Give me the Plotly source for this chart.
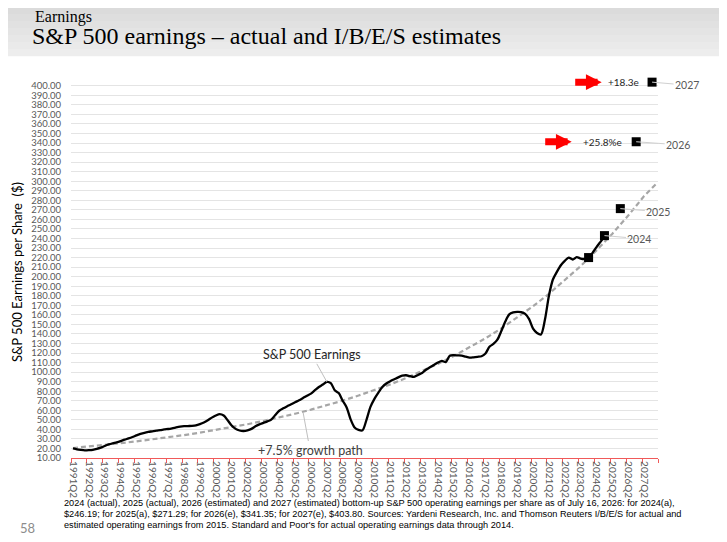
import plotly.graph_objects as go

# --- data ---
# quarterly category axis, 1991Q2 .. 2028Q1
quarters = [f"{y}Q{q}" for y in range(1991, 2029) for q in range(1, 5)][1:149]

# S&P 500 operating earnings per share (trailing), quarterly from 1991Q2
earnings = [
    20.0, 19.0, 18.4, 18.0,      # 1991Q2 -
    18.2, 18.6, 19.5, 20.8,      # 1992Q2 -
    22.6, 24.2, 25.4, 26.4,
    27.7, 29.2, 30.5, 32.0,
    33.7, 35.2, 36.4, 37.3,
    38.0, 38.7, 39.2, 39.9,
    40.4, 41.1, 42.0, 42.8,
    43.3, 43.5, 43.7, 44.2,
    45.5, 47.2, 49.5, 52.3,
    54.5, 56.0, 54.5, 49.5,      # 2000Q2 -
    44.0, 40.5, 38.8, 38.3,
    39.0, 40.5, 43.2, 45.2,
    46.8, 48.4, 50.2, 55.0,
    59.5, 62.0, 64.2, 66.3,
    68.5, 70.4, 72.8, 75.3,
    77.5, 81.0, 84.4, 87.0,
    89.8, 88.5, 81.0, 78.0,      # 2007Q2 -
    70.0, 63.0, 50.5, 42.0,
    39.5, 39.0, 50.0, 63.5,
    72.0, 78.5, 84.4, 88.0,      # 2010Q2 -
    90.5, 92.5, 94.5, 96.2,
    96.7, 95.7, 95.0, 97.0,
    99.0, 102.5, 105.2, 107.5,
    110.0, 111.8, 110.5, 117.2,
    117.7, 117.5, 117.3, 116.2,
    115.2, 115.5, 116.0, 116.6,
    119.5, 126.5, 129.5, 134.0,  # 2017Q2 -
    143.0, 153.0, 160.5, 162.5,
    163.1, 162.8, 161.0, 155.5,
    145.5, 141.0, 139.5, 155.0,  # 2020Q2 -
    180.0, 197.0, 205.0, 212.0,
    216.5, 220.0, 218.0, 220.5,
    219.0, 218.5, 219.5, 225.0,
    231.0, 236.5, 242.0,         # 2024Q2 - 2024Q4
]

# +7.5% growth path, read at each Q2 and at the axis end
growth_q = [f"{y}Q2" for y in range(1991, 2028)] + ["2028Q1"]
growth = [
    20.5, 22.0, 23.7, 25.5, 27.4, 29.4, 31.6, 34.0, 36.6, 39.3,
    42.3, 45.4, 48.8, 52.5, 56.4, 60.7, 65.2, 70.1, 75.4, 81.0,
    87.1, 93.8, 100.9, 108.6, 116.9, 125.8, 135.4, 145.8, 157.0, 169.0,
    182.0, 196.0, 211.0, 227.5, 245.0, 264.0, 284.5, 297.0,
]

# annual points (actual / I/B/E/S estimates)
annual_q = ["2023Q4", "2024Q4", "2025Q4", "2026Q4", "2027Q4"]
annual_val = [220.0, 243.0, 271.29, 341.35, 403.8]
annual_lbl = ["", "2024", "2025", "2026", "2027"]

growth_notes = [("+25.8%e", 341.35), ("+18.3e", 403.8)]

footnote = [
    "2024 (actual), 2025 (actual), 2026 (estimated) and 2027 (estimated) bottom-up S&P 500 operating earnings per share as of July 16, 2026: for 2024(a),",
    "$246.19; for 2025(a), $271.29; for 2026(e), $341.35; for 2027(e), $403.80. Sources: Yardeni Research, Inc. and Thomson Reuters I/B/E/S for actual and",
    "estimated operating earnings from 2015. Standard and Poor's for actual operating earnings data through 2014.",
]

# the page keeps its default 8px body margin, so the figure is 8px smaller
# and every slide pixel position below is measured from the window corner
OFF = 8
W, H = 727 - OFF, 542 - OFF
ML, MR, MT, MB = 71 - OFF, 69, 81 - OFF, 84
PW, PH = W - ML - MR, H - MT - MB


def px(x):   # window pixel -> paper x
    return (x - OFF - ML) / PW


def py(y):   # window pixel -> paper y
    return (H - MB - (y - OFF)) / PH


SANS = "Lato, Open Sans, sans-serif"
SERIF = "Liberation Serif, DejaVu Serif, serif"
GREY = "#595959"

fig = go.Figure()

fig.add_trace(go.Scatter(
    x=growth_q, y=growth, mode="lines", name="+7.5% growth path",
    line=dict(color="#a6a6a6", width=2.2, dash="5px,3px"), hoverinfo="skip"))

fig.add_trace(go.Scatter(
    x=quarters[:len(earnings)], y=earnings, mode="lines", name="S&P 500 Earnings",
    line=dict(color="black", width=2.3, shape="spline", smoothing=0.8)))

fig.add_trace(go.Scatter(
    x=annual_q, y=annual_val, mode="markers", name="annual",
    marker=dict(symbol="square", size=9, color="black"), cliponaxis=False))

ann = []

# year labels with leader lines
for q, v, t, off in zip(annual_q, annual_val, annual_lbl, [0, 35, 38, 42, 35]):
    if not t:
        continue
    ann.append(dict(x=q, y=v, xref="x", yref="y", text=t, showarrow=True,
                    arrowhead=0, arrowwidth=1, arrowcolor="#d0d0d0",
                    ax=off, ay=3, font=dict(family=SANS, size=10.5, color=GREY)))

# red arrows + growth notes
for (txt, v), tip_x, txt_x in zip(growth_notes, [571.7, 601.7], [602, 623]):
    ann.append(dict(x=px(tip_x), y=v, xref="paper", yref="y", text="",
                    showarrow=True, arrowhead=2, arrowsize=0.45, arrowwidth=7,
                    arrowcolor="#ff0000", ax=-28, ay=0))
    ann.append(dict(x=px(txt_x), y=v, xref="paper", yref="y", text=txt,
                    xanchor="center", yanchor="middle", showarrow=False,
                    font=dict(family=SANS, size=10, color="#262626")))

# series callouts
ann.append(dict(x="2007Q2", y=89.8, xref="x", yref="y", text="S&P 500 Earnings",
                showarrow=True, arrowhead=0, arrowwidth=1, arrowcolor="#bfbfbf",
                ax=-15, ay=-27, font=dict(family=SANS, size=12.5, color="#262626")))
ann.append(dict(x="2005Q4", y=58.2, xref="x", yref="y", text="+7.5% growth path",
                showarrow=True, arrowhead=0, arrowwidth=1, arrowcolor="#bfbfbf",
                ax=7, ay=38, font=dict(family=SANS, size=12.5, color="#404040")))

# y title
ann.append(dict(x=px(17), y=py(272), xref="paper", yref="paper",
                text="S&P 500 Earnings per Share\u00a0 ($)", textangle=-90,
                xanchor="center", yanchor="middle",
                showarrow=False, font=dict(family=SANS, size=13, color="black")))

# header
ann.append(dict(x=px(33), y=py(17), xref="paper", yref="paper", text="Earnings",
                xanchor="left", yanchor="middle", showarrow=False,
                font=dict(family=SERIF, size=16, color="black")))
ann.append(dict(x=px(30), y=py(36), xref="paper", yref="paper",
                text="S&P 500 earnings \u2013 actual and I/B/E/S estimates",
                xanchor="left", yanchor="middle", showarrow=False,
                font=dict(family=SERIF, size=24, color="black")))

# footnote + page number
for k, line in enumerate(footnote):
    ann.append(dict(x=px(62), y=py(503 + 11 * k), xref="paper", yref="paper", text=line,
                    xanchor="left", yanchor="middle", showarrow=False,
                    font=dict(family="Liberation Sans Narrow, Arial Narrow, sans-serif",
                              size=9.2, color="black")))
ann.append(dict(x=px(27), y=py(528), xref="paper", yref="paper", text="58",
                xanchor="center", yanchor="middle",
                showarrow=False, font=dict(family=SANS, size=13, color="#8c8c8c")))

# header band: light grey gradient across the top of the slide
shapes = []
strips = ["#d8d8d8", "#dbdbdb", "#dedede", "#e1e1e1", "#e4e4e4", "#e7e7e7", "#eaeaea", "#ededed"]
sh = 56 / len(strips)
for k, c in enumerate(strips):
    shapes.append(dict(type="rect", xref="paper", yref="paper", layer="below",
                       x0=px(0), x1=px(727), y0=py((k + 1) * sh + 0.3), y1=py(k * sh),
                       fillcolor=c, line=dict(width=0)))

fig.update_layout(
    width=W, height=H,
    margin=dict(l=ML, r=MR, t=MT, b=MB),
    paper_bgcolor="white", plot_bgcolor="white",
    showlegend=False,
    annotations=ann, shapes=shapes,
    xaxis=dict(
        type="category", categoryorder="array", categoryarray=quarters,
        range=[-0.5, len(quarters) - 0.5],
        tickmode="linear", tick0=0, dtick=4, tickson="boundaries",
        tickangle=90, ticks="outside", ticklen=4, tickcolor="#f05a5a",
        showline=True, linecolor="#f05a5a", linewidth=1.2,
        showgrid=False, zeroline=False,
        tickfont=dict(family=SANS, size=10, color=GREY),
    ),
    yaxis=dict(
        range=[10, 405], tick0=10, dtick=10, tickformat=".2f",
        showgrid=True, gridcolor="#e4e4e4", gridwidth=1,
        zeroline=False, showline=False, ticks="",
        ticklabelstandoff=9,
        tickfont=dict(family=SANS, size=9.5, color=GREY),
    ),
)

fig.write_html("out.html", config={"displayModeBar": False})
